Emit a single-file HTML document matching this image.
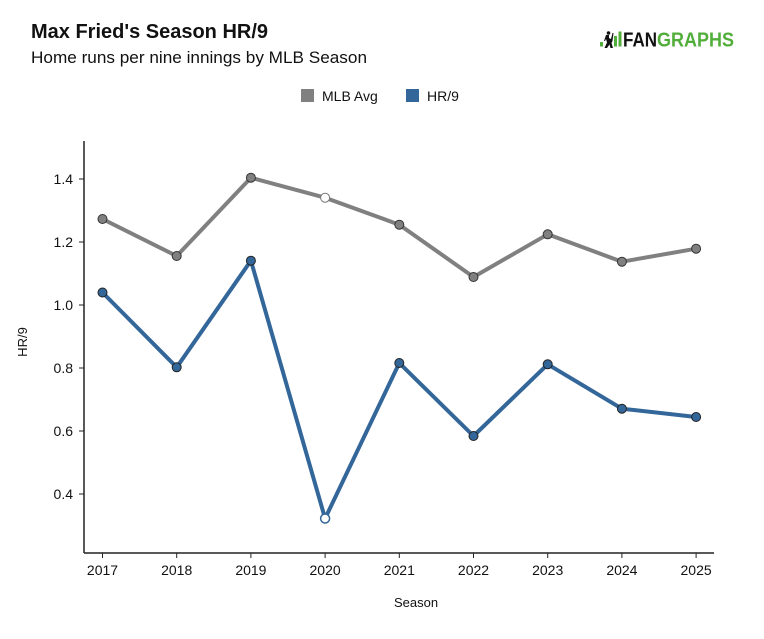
<!DOCTYPE html>
<html>
<head>
<meta charset="utf-8">
<style>
  html, body { margin: 0; padding: 0; background: #fff; }
  svg { display: block; }
  text { font-family: "Liberation Sans", "DejaVu Sans", sans-serif; }
</style>
</head>
<body>
<svg width="764" height="639" viewBox="0 0 764 639" xmlns="http://www.w3.org/2000/svg">
  <rect width="764" height="639" fill="#fff"/>

  <!-- Title -->
  <text x="31" y="38" font-size="20" font-weight="bold" fill="#111" textLength="237" lengthAdjust="spacingAndGlyphs">Max Fried's Season HR/9</text>
  <text x="31" y="63" font-size="17" fill="#111" textLength="336" lengthAdjust="spacingAndGlyphs">Home runs per nine innings by MLB Season</text>

  <!-- Logo -->
  <g>
    <rect x="600" y="42" width="3" height="4.5" fill="#52ae3a"/>
    <path d="M606 35 l3 0 l0 3 l2 1 l1.5 -6 l1 0 l-1 8 l-1 2 l1.5 5 l-2.5 0 l-1 -3.5 l-2.5 3.5 l-2.5 0 l2.5 -5.5 l-1 -3.5 l-1 2 l-1 0 z" fill="#111"/>
    <circle cx="608.5" cy="33" r="1.8" fill="#111"/>
    <rect x="614" y="36" width="3" height="10.5" fill="#52ae3a"/>
    <rect x="618.5" y="31.5" width="3" height="15" fill="#52ae3a"/>
    <text x="623" y="46.5" font-size="20" font-weight="bold" fill="#111" textLength="34" lengthAdjust="spacingAndGlyphs">FAN</text>
    <text x="657" y="46.5" font-size="20" font-weight="bold" fill="#52ae3a" textLength="77" lengthAdjust="spacingAndGlyphs">GRAPHS</text>
  </g>

  <!-- Legend -->
  <rect x="301" y="89" width="13" height="13" fill="#808080"/>
  <text x="322" y="101" font-size="14" fill="#111">MLB Avg</text>
  <rect x="406" y="89" width="13" height="13" fill="#336699"/>
  <text x="427" y="101" font-size="14" fill="#111">HR/9</text>

  <!-- Axes -->
  <line x1="84" y1="141" x2="84" y2="553" stroke="#222" stroke-width="1.5"/>
  <line x1="84" y1="553" x2="714" y2="553" stroke="#222" stroke-width="1.5"/>

  <!-- Y ticks -->
  <g stroke="#222" stroke-width="1">
    <line x1="79" y1="179" x2="84" y2="179"/>
    <line x1="79" y1="242" x2="84" y2="242"/>
    <line x1="79" y1="305" x2="84" y2="305"/>
    <line x1="79" y1="368" x2="84" y2="368"/>
    <line x1="79" y1="431" x2="84" y2="431"/>
    <line x1="79" y1="494" x2="84" y2="494"/>
  </g>
  <g font-size="14" fill="#111" text-anchor="end">
    <text x="73" y="184">1.4</text>
    <text x="73" y="247">1.2</text>
    <text x="73" y="310">1.0</text>
    <text x="73" y="373">0.8</text>
    <text x="73" y="436">0.6</text>
    <text x="73" y="499">0.4</text>
  </g>
  <text transform="translate(27,342) rotate(-90)" font-size="13" fill="#111" text-anchor="middle">HR/9</text>

  <!-- X ticks -->
  <g stroke="#222" stroke-width="1">
    <line x1="102.5" y1="553" x2="102.5" y2="558"/>
    <line x1="176.7" y1="553" x2="176.7" y2="558"/>
    <line x1="250.9" y1="553" x2="250.9" y2="558"/>
    <line x1="325.1" y1="553" x2="325.1" y2="558"/>
    <line x1="399.3" y1="553" x2="399.3" y2="558"/>
    <line x1="473.5" y1="553" x2="473.5" y2="558"/>
    <line x1="547.7" y1="553" x2="547.7" y2="558"/>
    <line x1="621.9" y1="553" x2="621.9" y2="558"/>
    <line x1="696.1" y1="553" x2="696.1" y2="558"/>
  </g>
  <g font-size="14" fill="#111" text-anchor="middle">
    <text x="102.5" y="575">2017</text>
    <text x="176.7" y="575">2018</text>
    <text x="250.9" y="575">2019</text>
    <text x="325.1" y="575">2020</text>
    <text x="399.3" y="575">2021</text>
    <text x="473.5" y="575">2022</text>
    <text x="547.7" y="575">2023</text>
    <text x="621.9" y="575">2024</text>
    <text x="696.1" y="575">2025</text>
  </g>
  <text x="416" y="607" font-size="13" fill="#111" text-anchor="middle">Season</text>

  <!-- MLB Avg series -->
  <polyline fill="none" stroke="#808080" stroke-width="4" stroke-linejoin="round"
    points="102.5,219 176.7,256 250.9,177.7 325.1,197.7 399.3,224.7 473.5,277 547.7,234.3 621.9,261.7 696.1,248.7"/>
  <g fill="#808080" stroke="#333" stroke-width="1">
    <circle cx="102.5" cy="219" r="4.5"/>
    <circle cx="176.7" cy="256" r="4.5"/>
    <circle cx="250.9" cy="177.7" r="4.5"/>
    <circle cx="325.1" cy="197.7" r="4.5" fill="#fff" stroke="#777"/>
    <circle cx="399.3" cy="224.7" r="4.5"/>
    <circle cx="473.5" cy="277" r="4.5"/>
    <circle cx="547.7" cy="234.3" r="4.5"/>
    <circle cx="621.9" cy="261.7" r="4.5"/>
    <circle cx="696.1" cy="248.7" r="4.5"/>
  </g>

  <!-- HR/9 series -->
  <polyline fill="none" stroke="#336699" stroke-width="4" stroke-linejoin="round"
    points="102.5,292.5 176.7,367.3 250.9,260.7 325.1,518.5 399.3,363 473.5,436 547.7,364.3 621.9,408.7 696.1,417"/>
  <g fill="#336699" stroke="#222" stroke-width="1">
    <circle cx="102.5" cy="292.5" r="4.5"/>
    <circle cx="176.7" cy="367.3" r="4.5"/>
    <circle cx="250.9" cy="260.7" r="4.5"/>
    <circle cx="325.1" cy="518.5" r="4.5" fill="#fff" stroke="#336699" stroke-width="1.5"/>
    <circle cx="399.3" cy="363" r="4.5"/>
    <circle cx="473.5" cy="436" r="4.5"/>
    <circle cx="547.7" cy="364.3" r="4.5"/>
    <circle cx="621.9" cy="408.7" r="4.5"/>
    <circle cx="696.1" cy="417" r="4.5"/>
  </g>
</svg>
</body>
</html>
